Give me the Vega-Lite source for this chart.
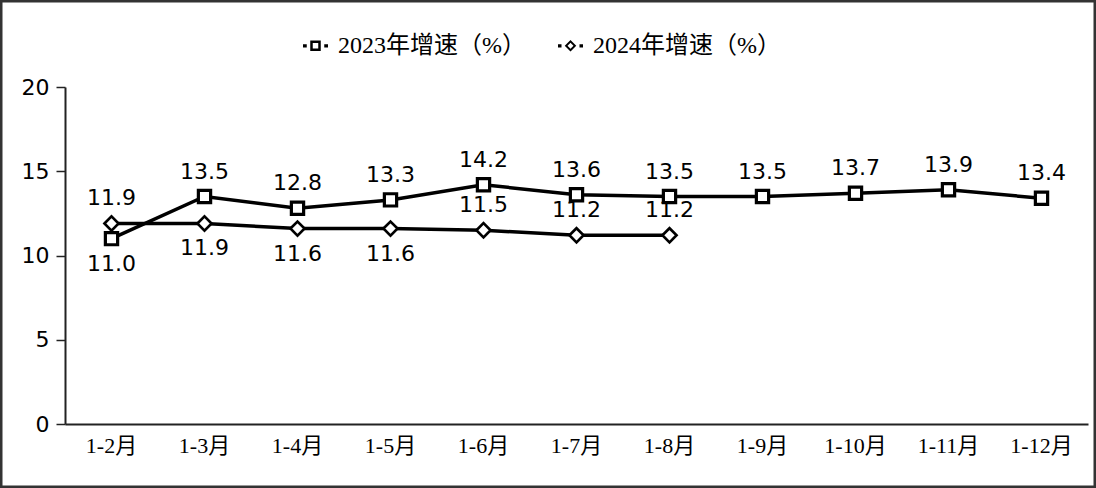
{
  "$schema": "https://vega.github.io/schema/vega-lite/v6.json",
  "width": 1096,
  "height": 488,
  "autosize": "none",
  "padding": 0,
  "background": "white",
  "config": {
    "view": {"stroke": "#333333", "strokeWidth": 5},
    "axis": {"grid": false}
  },
  "data": {
    "values": [
      {"month": "1-2月", "series": "2023年增速（%）", "value": 11.0},
      {"month": "1-3月", "series": "2023年增速（%）", "value": 13.5},
      {"month": "1-4月", "series": "2023年增速（%）", "value": 12.8},
      {"month": "1-5月", "series": "2023年增速（%）", "value": 13.3},
      {"month": "1-6月", "series": "2023年增速（%）", "value": 14.2},
      {"month": "1-7月", "series": "2023年增速（%）", "value": 13.6},
      {"month": "1-8月", "series": "2023年增速（%）", "value": 13.5},
      {"month": "1-9月", "series": "2023年增速（%）", "value": 13.5},
      {"month": "1-10月", "series": "2023年增速（%）", "value": 13.7},
      {"month": "1-11月", "series": "2023年增速（%）", "value": 13.9},
      {"month": "1-12月", "series": "2023年增速（%）", "value": 13.4},
      {"month": "1-2月", "series": "2024年增速（%）", "value": 11.9},
      {"month": "1-3月", "series": "2024年增速（%）", "value": 11.9},
      {"month": "1-4月", "series": "2024年增速（%）", "value": 11.6},
      {"month": "1-5月", "series": "2024年增速（%）", "value": 11.6},
      {"month": "1-6月", "series": "2024年增速（%）", "value": 11.5},
      {"month": "1-7月", "series": "2024年增速（%）", "value": 11.2},
      {"month": "1-8月", "series": "2024年增速（%）", "value": 11.2}
    ]
  },
  "encoding": {
    "x": {
      "field": "month",
      "type": "ordinal",
      "sort": null,
      "scale": {"type": "band", "range": [65, 1088], "paddingInner": 0, "paddingOuter": 0},
      "axis": {
        "title": null,
        "offset": -64,
        "ticks": false,
        "labelAngle": 0,
        "labelPadding": 11,
        "labelFont": "Liberation Serif, Noto Sans CJK SC",
        "labelFontSize": 22,
        "labelColor": "black",
        "domainColor": "#222222",
        "domainWidth": 2
      }
    },
    "y": {
      "field": "value",
      "type": "quantitative",
      "scale": {"domain": [0, 20], "range": [424, 87], "nice": false, "zero": true},
      "axis": {
        "title": null,
        "offset": -65,
        "values": [0, 5, 10, 15, 20],
        "tickSize": 9,
        "tickColor": "#222222",
        "tickWidth": 1.5,
        "labelPadding": 7,
        "labelFont": "DejaVu Sans",
        "labelFontSize": 22,
        "labelColor": "black",
        "domainColor": "#222222",
        "domainWidth": 2
      }
    }
  },
  "layer": [
    {
      "mark": {"type": "line", "strokeWidth": 3.5},
      "encoding": {
        "color": {
          "field": "series",
          "type": "nominal",
          "scale": {"domain": ["2023年增速（%）", "2024年增速（%）"], "range": ["black", "black"]},
          "legend": {
            "title": null,
            "orient": "none",
            "direction": "horizontal",
            "legendX": 303,
            "legendY": 33,
            "padding": 0,
            "symbolSize": 625,
            "labelFont": "Liberation Serif, Noto Sans CJK SC",
            "labelFontSize": 24,
            "labelColor": "black",
            "labelLimit": 0,
            "labelOffset": 10,
            "columnPadding": 32,
            "encode": {
              "symbols": {
                "update": {
                  "shape": {"signal": "datum.value === '2023年增速（%）' ? 'M-1,-0.13H-0.7V0.13H-1Z M0.7,-0.13H1V0.13H0.7Z M-0.42,-0.42H0.42V0.42H-0.42Z M-0.22,-0.22V0.22H0.22V-0.22Z' : 'M-1,-0.13H-0.72V0.13H-1Z M0.72,-0.13H1V0.13H0.72Z M0,-0.46L0.46,0L0,0.46L-0.46,0Z M0,-0.24L-0.24,0L0,0.24L0.24,0Z'"},
                  "fill": {"value": "black"},
                  "fillOpacity": {"value": 1},
                  "stroke": {"value": "transparent"},
                  "strokeWidth": {"value": 0}
                }
              }
            }
          }
        }
      }
    },
    {
      "transform": [{"filter": "datum.series === '2023年增速（%）'"}],
      "mark": {"type": "point", "shape": "square", "size": 150, "filled": true, "fill": "white", "stroke": "black", "strokeWidth": 3.2, "opacity": 1}
    },
    {
      "transform": [{"filter": "datum.series === '2024年增速（%）'"}],
      "mark": {"type": "point", "shape": "diamond", "size": 200, "filled": true, "fill": "white", "stroke": "black", "strokeWidth": 2.6, "opacity": 1}
    },
    {
      "transform": [
        {"filter": "(datum.series === '2023年增速（%）' && datum.month !== '1-2月') || (datum.series === '2024年增速（%）' && indexof(['1-2月', '1-6月', '1-7月', '1-8月'], datum.month) >= 0)"}
      ],
      "mark": {"type": "text", "dy": -25, "baseline": "middle", "font": "DejaVu Sans", "fontSize": 22, "color": "black"},
      "encoding": {
        "text": {"field": "value", "type": "quantitative", "format": ".1f"}
      }
    },
    {
      "transform": [
        {"filter": "(datum.series === '2023年增速（%）' && datum.month === '1-2月') || (datum.series === '2024年增速（%）' && indexof(['1-3月', '1-4月', '1-5月'], datum.month) >= 0)"}
      ],
      "mark": {"type": "text", "dy": 25, "baseline": "middle", "font": "DejaVu Sans", "fontSize": 22, "color": "black"},
      "encoding": {
        "text": {"field": "value", "type": "quantitative", "format": ".1f"}
      }
    }
  ]
}
